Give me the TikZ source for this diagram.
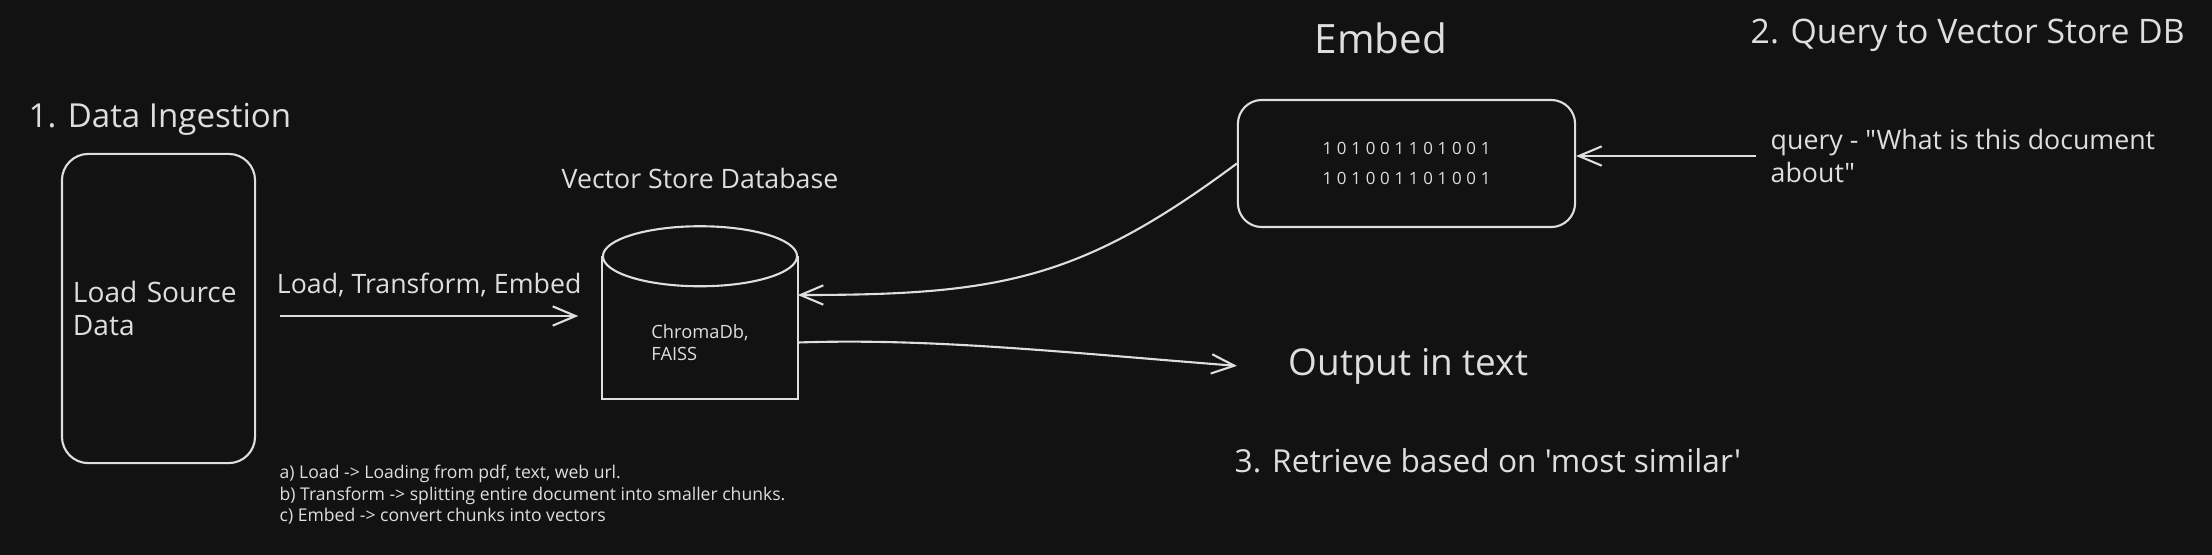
\documentclass[tikz,border=0pt]{standalone}
\usepackage{fontspec}
\setmainfont{Open Sans}[Ligatures=TeXOff]
\usetikzlibrary{arrows.meta, positioning}
\definecolor{BgDark}{RGB}{18,18,18}
\definecolor{InkGrey}{RGB}{222,222,222}

\begin{document}
\begin{tikzpicture}[
  x=0.01cm, y=-0.01cm,
  box/.style={
    rectangle, rounded corners=7.5pt, draw=InkGrey,
    line width=0.6pt, text=InkGrey
  },
  arrow/.style={-{Straight Barb[length=6.5pt, width=5.5pt]}, line width=0.6pt, draw=InkGrey},
  heading/.style={inner sep=0pt, text=InkGrey, font=\fontsize{9.4}{11}\selectfont},
  txt/.style={inner sep=0pt, text=InkGrey, font=\fontsize{7.6}{9.2}\selectfont, align=left},
  note/.style={inner sep=0pt, text=InkGrey, font=\fontsize{5}{6.1}\selectfont, align=left},
]
\useasboundingbox (0,0) rectangle (2212,554);
\fill[BgDark] (-5,-5) rectangle (2217,559);

% 1. ingestion
\node[heading, anchor=base west] (ingest) at (28,127) {1. Data Ingestion};
\node[box, minimum width=1.93cm, minimum height=3.09cm, text width=1.71cm, inner sep=0pt,
      align=left, font=\fontsize{8}{9.6}\selectfont] (src) at (158.5,308.5) {Load Source\\Data};

% vector store
\node[txt, font=\fontsize{5.2}{6.4}\selectfont, minimum width=1.94cm, minimum height=1.11cm] (vdb) at (700,342.5) {ChromaDb,\\FAISS};
\draw[line width=0.6pt, draw=InkGrey] ([yshift=0.3cm]vdb.north west) -- (vdb.south west)
  -- (vdb.south east) -- ([yshift=0.3cm]vdb.north east);
\draw[line width=0.6pt, draw=InkGrey] ([yshift=0.3cm]vdb.north) ellipse [x radius=0.97cm, y radius=0.3cm];
\node[txt, above=0.97cm of vdb] (vdbtitle) {Vector Store Database};

\draw[arrow] ([shift={(24,7.5)}]src.east) -- node[txt, above=0.175cm] (lte) {Load, Transform, Embed} ([shift={(-24,-26.5)}]vdb.west);
\node[note, anchor=west] (notes) at (279,495) {a) Load -> Loading from pdf, text, web url.\\
  b) Transform -> splitting entire document into smaller chunks.\\
  c) Embed -> convert chunks into vectors};

% 2. query
\node[box, minimum width=3.37cm, minimum height=1.27cm, rounded corners=6.8pt, align=center,
      font=\fontsize{4.8}{8.5}\selectfont\addfontfeature{LetterSpace=28}] (emb) at (1406.5,163.5) {101001101001\\101001101001};
\node[heading, font=\fontsize{11.5}{13}\selectfont, above=0.44cm of emb, xshift=-0.255cm] (embtitle) {Embed};
\node[heading, font=\fontsize{9.6}{11}\selectfont, anchor=base west] (qtitle) at (1750,43) {2. Query to Vector Store DB};
\node[txt, anchor=west] (query) at (1770,156) {query - "What is this document\\about"};
\draw[arrow] ([xshift=-0.14cm]query.west) -- (emb.east |- query.west);
\draw[arrow] (emb.west) .. controls (1080,280) and (1000,295) .. ([shift={(0,-47.5)}]vdb.east);

% 3. retrieve
\node[heading, font=\fontsize{10.5}{12}\selectfont, anchor=base west] (outtext) at (1288,375) {Output in text};
\node[heading, font=\fontsize{9}{11}\selectfont, anchor=base west] (retrieve) at (1234,472) {3. Retrieve based on 'most similar'};
\draw[arrow] (vdb.east) .. controls (930,338) and (1060,352) .. ([xshift=-0.51cm]outtext.west);
\end{tikzpicture}
\end{document}
